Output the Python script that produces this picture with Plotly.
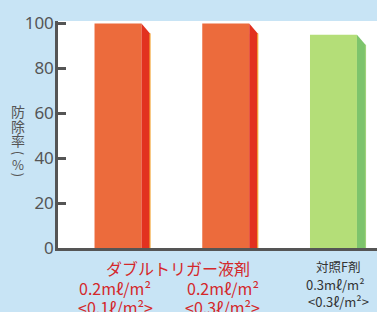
import plotly.graph_objects as go

# ---- data ----
categories = ["ダブルトリガー液剤 0.2mℓ/m² <0.1ℓ/m²>",
              "ダブルトリガー液剤 0.2mℓ/m² <0.3ℓ/m²>",
              "対照F剤 0.3mℓ/m² <0.3ℓ/m²>"]
values = [100, 100, 95]
dose_lines = ["0.2mℓ/m²", "0.2mℓ/m²", "0.3mℓ/m²"]
volume_lines = ["&lt;0.1ℓ/m²&gt;", "&lt;0.3ℓ/m²&gt;", "&lt;0.3ℓ/m²&gt;"]
group_labels = ["ダブルトリガー液剤", "対照F剤"]
y_title_chars = ["防", "除", "率", "(", "%", ")"]
y_ticks = [0, 20, 40, 60, 80, 100]

# ---- style ----
front_colors = ["#ec6b3c", "#ec6b3c", "#b4de78"]
side_colors = ["#e2311f", "#e2311f", "#7dc46c"]
edge_colors = ["#f3a535", "#f3a535", "#9fd27a"]
text_colors = ["#d4282b", "#d4282b", "#333333"]
BG = "#c8e4f5"
AX = "#555555"
W = 0.436      # front face width (axis units)
S = 0.079      # side face width
D = 4.5        # chamfer drop
FONT = "Noto Sans CJK JP"
PLOT_TOP, PLOT_BOTTOM = 21, 248.3
PLOT_H = PLOT_BOTTOM - PLOT_TOP


def py(pix):
    return (PLOT_BOTTOM - pix) / PLOT_H


xs = list(range(len(categories)))

fig = go.Figure()
fig.add_trace(go.Bar(x=xs, y=values, width=W, marker=dict(color=front_colors, line=dict(width=0)),
                     hovertext=categories, showlegend=False))

for i, v in enumerate(values):
    h = W / 2
    fig.add_trace(go.Scatter(
        x=[i + h, i + h, i + h + S, i + h + S, i + h],
        y=[0, v, v - D, 0, 0],
        mode="lines", fill="toself", fillcolor=side_colors[i],
        line=dict(width=0, color=side_colors[i]), showlegend=False, hoverinfo="skip"))
    fig.add_trace(go.Scatter(
        x=[i + h + S, i + h + S], y=[0, v - D], mode="lines",
        line=dict(width=1.2, color=edge_colors[i]), showlegend=False, hoverinfo="skip"))

annotations = []
annotations.append(dict(x=0.5, y=py(268), xref="x", yref="paper", text=group_labels[0],
                        showarrow=False, xshift=6, yanchor="middle",
                        font=dict(family=FONT, size=16, color=text_colors[0])))
annotations.append(dict(x=2, y=py(267), xref="x", yref="paper", text=group_labels[1],
                        showarrow=False, xshift=5, yanchor="middle",
                        font=dict(family=FONT, size=12.5, color=text_colors[2])))
for i in xs:
    big = i < 2
    annotations.append(dict(x=i, y=py(288 if big else 285), xref="x", yref="paper",
                            text=dose_lines[i], showarrow=False,
                            xshift=-3 if big else 2, yanchor="middle",
                            font=dict(family=FONT, size=16 if big else 13, color=text_colors[i])))
    annotations.append(dict(x=i, y=py(307 if big else 302), xref="x", yref="paper",
                            text=volume_lines[i], showarrow=False,
                            xshift=-3 if big else 5, yanchor="middle",
                            font=dict(family=FONT, size=16 if big else 13, color=text_colors[i])))
# vertical y-axis title, one character per line (parentheses rotated as in vertical writing)
title_y_pix = [111.5, 126.5, 140, 153, 165, 175]
title_angles = [0, 0, 0, 90, 0, 90]
title_sizes = [14, 14, 14, 13, 13, 13]
for ch, yp, ang, sz in zip(y_title_chars, title_y_pix, title_angles, title_sizes):
    annotations.append(dict(x=-(58 - 18) / 319, y=py(yp), xref="paper", yref="paper",
                            text=ch, showarrow=False, yanchor="middle", xanchor="center",
                            textangle=ang, font=dict(family=FONT, size=sz, color=AX)))

fig.update_layout(
    width=377, height=312,
    margin=dict(l=58, r=0, t=PLOT_TOP, b=312 - PLOT_BOTTOM),
    paper_bgcolor=BG, plot_bgcolor="white",
    barmode="overlay",
    annotations=annotations,
    xaxis=dict(range=[-0.557, 2.404], showticklabels=False, showgrid=False, zeroline=False,
               showline=True, linecolor=AX, linewidth=2.5, ticks=""),
    yaxis=dict(range=[0, 101.1], tickvals=y_ticks, ticks="inside", ticklen=8, tickwidth=2.5,
               tickcolor=AX, showline=True, linecolor=AX, linewidth=2.5, showgrid=False,
               zeroline=False, ticklabelstandoff=-2,
               tickfont=dict(family="Noto Sans", size=17, color=AX)),
)

fig.write_html("out.html", config={"displayModeBar": False},
               post_script="document.body.style.margin='0';")
